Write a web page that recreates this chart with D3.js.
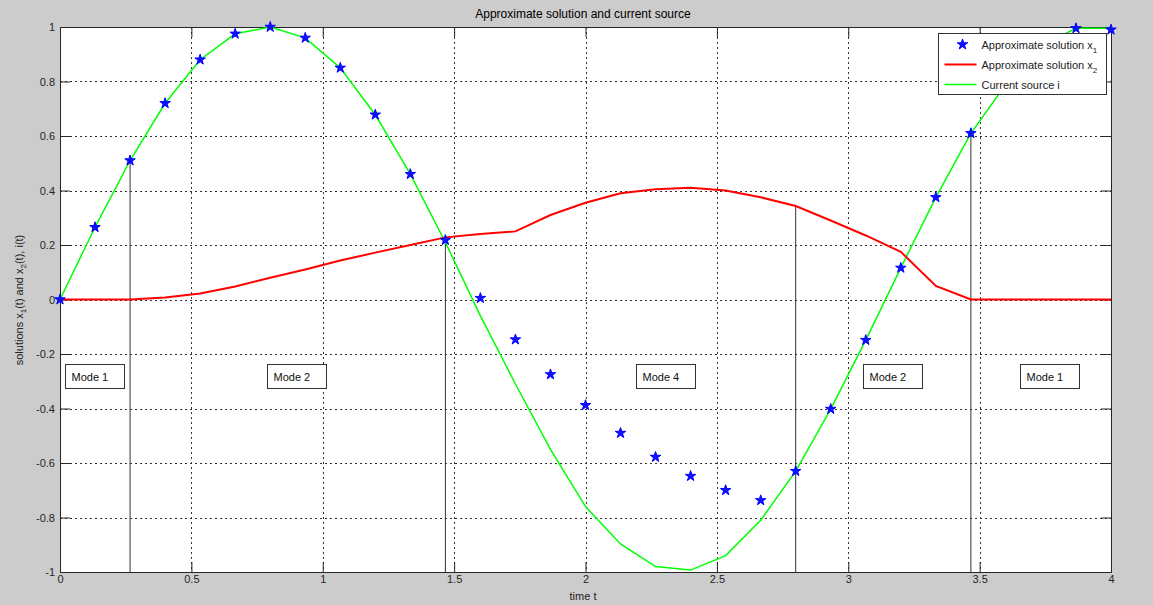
<!DOCTYPE html>
<html>
<head>
<meta charset="utf-8">
<script src="https://cdn.jsdelivr.net/npm/d3@7"></script>
<style>
  body { margin: 0; background: #cccccc; }
  svg { display: block; font-family: "Liberation Sans", Arial, sans-serif; }
</style>
</head>
<body>
<svg id="chart" width="1153" height="605"></svg>
<script>
// time samples (step 4/30)
const times = [0, 0.1333, 0.2667, 0.4, 0.5333, 0.6667, 0.8, 0.9333, 1.0667, 1.2, 1.3333, 1.4667,
  1.6, 1.7333, 1.8667, 2.0, 2.1333, 2.2667, 2.4, 2.5333, 2.6667, 2.8, 2.9333, 3.0667, 3.2,
  3.3333, 3.4667, 3.6, 3.7333, 3.8667, 4.0];
// approximate solution x1 (stars)
const x1 = [0, 0.265, 0.51, 0.72, 0.88, 0.975, 1.0, 0.96, 0.85, 0.678, 0.46, 0.218,
  0.005, -0.147, -0.275, -0.388, -0.49, -0.578, -0.648, -0.7, -0.737, -0.63, -0.402, -0.149, 0.116,
  0.375, 0.61, 0.79, 0.93, 0.995, 0.99];
// approximate solution x2 (red line)
const x2 = [0, 0, 0, 0.007, 0.022, 0.048, 0.08, 0.11, 0.143, 0.172, 0.2, 0.228,
  0.24, 0.25, 0.31, 0.355, 0.39, 0.405, 0.41, 0.4, 0.375, 0.343, 0.29, 0.235, 0.175,
  0.05, 0.0, 0, 0, 0, 0];
// current source i (green line)
const current = [0, 0.265, 0.51, 0.72, 0.88, 0.975, 1.0, 0.96, 0.85, 0.678, 0.46, 0.21,
  -0.06, -0.31, -0.55, -0.76, -0.897, -0.98, -0.993, -0.94, -0.81, -0.63, -0.402, -0.149, 0.116,
  0.375, 0.61, 0.79, 0.93, 0.995, 0.995];
// mode boundary lines: time, top value
const boundaryT = [0.2667, 1.4667, 2.8, 3.4667];
const boundaryTop = [0.51, 0.218, 0.343, 0.61];
// mode annotation labels and left positions (time)
const modeLabels = ["Mode 1", "Mode 2", "Mode 4", "Mode 2", "Mode 1"];
const modeT = [0.019, 0.788, 2.193, 3.057, 3.654];
const xTicks = [0, 0.5, 1, 1.5, 2, 2.5, 3, 3.5, 4];
const yTicks = [-1, -0.8, -0.6, -0.4, -0.2, 0, 0.2, 0.4, 0.6, 0.8, 1];

const svg = d3.select("#chart");
const L = 60, R = 1111, T = 27, B = 572;
const x = d3.scaleLinear().domain([0, 4]).range([L, R]);
const y = d3.scaleLinear().domain([-1, 1]).range([B, T]);
const fmt = d => (d === 0 ? "0" : String(d));

svg.append("rect").attr("width", 1153).attr("height", 605).attr("fill", "#cccccc");
svg.append("rect").attr("x", L).attr("y", T).attr("width", R - L).attr("height", B - T).attr("fill", "#fff");

// grid
const grid = svg.append("g").attr("stroke", "#333").attr("stroke-width", 1).attr("stroke-dasharray", "2,3");
grid.selectAll(".gx").data(xTicks.slice(1, -1)).join("line")
  .attr("x1", d => Math.round(x(d)) + 0.5).attr("x2", d => Math.round(x(d)) + 0.5)
  .attr("y1", T).attr("y2", B);
grid.selectAll(".gy").data(yTicks.slice(1, -1)).join("line")
  .attr("y1", d => Math.round(y(d)) + 0.5).attr("y2", d => Math.round(y(d)) + 0.5)
  .attr("x1", L).attr("x2", R);

// axes (ticks inward, box)
const tl = 10;
const axB = svg.append("g").attr("transform", `translate(0,${B})`)
  .call(d3.axisBottom(x).tickValues(xTicks).tickSize(-tl).tickPadding(3).tickFormat(fmt));
const axT = svg.append("g").attr("transform", `translate(0,${T})`)
  .call(d3.axisTop(x).tickValues(xTicks).tickSize(-tl).tickFormat(""));
const axL = svg.append("g").attr("transform", `translate(${L},0)`)
  .call(d3.axisLeft(y).tickValues(yTicks).tickSize(-tl).tickPadding(5).tickFormat(fmt));
const axR = svg.append("g").attr("transform", `translate(${R},0)`)
  .call(d3.axisRight(y).tickValues(yTicks).tickSize(-tl).tickFormat(""));
[axB, axT, axL, axR].forEach(a => {
  a.select(".domain").attr("stroke", "#262626");
  a.selectAll(".tick line").attr("stroke", "#262626");
  a.selectAll("text").attr("fill", "#262626").style("font-size", "11px").style("font-family", "Liberation Sans, Arial, sans-serif");
});
axB.selectAll("text").attr("dy", "0.71em");

// mode boundary lines
svg.append("g").selectAll("line").data(boundaryT).join("line")
  .attr("x1", d => x(d)).attr("x2", d => x(d))
  .attr("y1", (d, i) => y(boundaryTop[i])).attr("y2", y(-1))
  .attr("stroke", "#333").attr("stroke-width", 1);

// green current source
const line = d3.line().x((d, i) => x(times[i])).y(d => y(d));
svg.append("path").datum(current).attr("d", line).attr("fill", "none")
  .attr("stroke", "#00ff00").attr("stroke-width", 1.5);
// red x2
svg.append("path").datum(x2).attr("d", line).attr("fill", "none")
  .attr("stroke", "#ff0000").attr("stroke-width", 2);
// stars x1
const star = d3.symbol().type(d3.symbolStar).size(34);
svg.append("g").selectAll("path").data(x1).join("path")
  .attr("d", star)
  .attr("transform", (d, i) => `translate(${x(times[i])},${y(d)})`)
  .attr("fill", "#1010ff").attr("stroke", "#0000ff").attr("stroke-width", 1);

// mode labels
const mg = svg.append("g").selectAll("g").data(modeLabels).join("g")
  .attr("transform", (d, i) => `translate(${Math.round(x(modeT[i])) + 0.5},${Math.round(y(-0.237)) + 0.5})`);
mg.append("rect").attr("width", 59).attr("height", 24)
  .attr("fill", "#fff").attr("stroke", "#333").attr("stroke-width", 1);
mg.append("text").attr("x", 6).attr("y", 16.5).text(d => d)
  .style("font-size", "11px").attr("fill", "#111");

// legend
const lg = svg.append("g").attr("transform", "translate(938.5,33.5)");
lg.append("rect").attr("width", 168).attr("height", 61).attr("fill", "#fff").attr("stroke", "#333");
const legendItems = ["Approximate solution x", "Approximate solution x", "Current source i"];
const legendSub = ["1", "2", ""];
legendItems.forEach((t, i) => {
  const yy = 11 + i * 20;
  if (i === 0) {
    lg.append("path").attr("d", star).attr("transform", `translate(24,${yy})`)
      .attr("fill", "#1010ff").attr("stroke", "#0000ff");
  } else {
    lg.append("line").attr("x1", 6).attr("x2", 38).attr("y1", yy).attr("y2", yy)
      .attr("stroke", i === 1 ? "#ff0000" : "#00ff00").attr("stroke-width", i === 1 ? 2 : 1.5);
  }
  const tx = lg.append("text").attr("x", 43).attr("y", yy + 4).style("font-size", "11px").attr("fill", "#222").text(t);
  if (legendSub[i]) tx.append("tspan").attr("dy", 4).style("font-size", "8px").text(legendSub[i]);
});

// title
svg.append("text").attr("x", 583).attr("y", 18).attr("text-anchor", "middle")
  .style("font-size", "12px").attr("fill", "#000").text("Approximate solution and current source");
// x label
svg.append("text").attr("x", 583).attr("y", 600).attr("text-anchor", "middle")
  .style("font-size", "11px").attr("fill", "#222").text("time t");
// y label
const yl = svg.append("text").attr("transform", "translate(23,300) rotate(-90)").attr("text-anchor", "middle")
  .style("font-size", "11px").attr("fill", "#222");
yl.append("tspan").text("solutions x");
yl.append("tspan").attr("dy", 3).style("font-size", "8px").text("1");
yl.append("tspan").attr("dy", -3).text("(t) and x");
yl.append("tspan").attr("dy", 3).style("font-size", "8px").text("2");
yl.append("tspan").attr("dy", -3).text("(t), i(t)");
</script>
</body>
</html>
